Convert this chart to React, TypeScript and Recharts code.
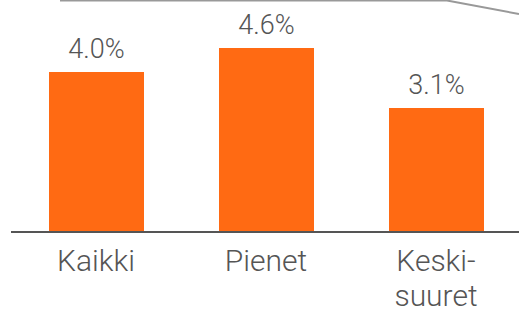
import React from 'react';
import { BarChart, Bar, XAxis, YAxis, LabelList } from 'recharts';

const categories = ['Kaikki', 'Pienet', 'Keski-\nsuuret'];
const shares = [4.0, 4.6, 3.1];

const data = categories.map((name, i) => ({ name, value: shares[i] }));

const FONT = 'Roboto, "Open Sans", sans-serif';

const CategoryTick = (props: any) => {
  const { x, y, payload } = props;
  const lines = String(payload.value).split('\n');
  return (
    <g transform={`translate(${x},${y})`}>
      {lines.map((line, i) => (
        <text
          key={i}
          x={0}
          y={31 + i * 35}
          textAnchor="middle"
          fill="#555"
          fontSize={30}
          fontWeight={300}
          fontFamily={FONT}
        >
          {line}
        </text>
      ))}
    </g>
  );
};

const App: React.FC = () => {
  return (
    <div style={{ position: 'absolute', left: 0, top: 0, width: 519, height: 312, background: '#fff' }}>
      {/* piece of the neighbouring chart's frame, cut off at the top */}
      <svg width={519} height={312} style={{ position: 'absolute', left: 0, top: 0, pointerEvents: 'none' }}>
        <polyline points="60,0.5 447,0.5 519,14" fill="none" stroke="#999" strokeWidth={2} />
      </svg>
      <BarChart
        width={519}
        height={312}
        data={data}
        margin={{ top: 0, right: -2, bottom: 0, left: 11 }}
        barCategoryGap={0}
      >
        <XAxis
          dataKey="name"
          axisLine={{ stroke: '#555', strokeWidth: 2 }}
          tickLine={false}
          tick={<CategoryTick />}
          height={80}
          interval={0}
        />
        <YAxis hide domain={[0, 5.8]} />
        <Bar dataKey="value" fill="#FF6A13" barSize={95} isAnimationActive={false}>
          <LabelList
            dataKey="value"
            position="top"
            offset={14}
            formatter={(v: any) => `${Number(v).toFixed(1)}%`}
            style={{ fill: '#555', fontSize: 27, fontWeight: 300, fontFamily: FONT }}
          />
        </Bar>
      </BarChart>
    </div>
  );
};

export default App;
